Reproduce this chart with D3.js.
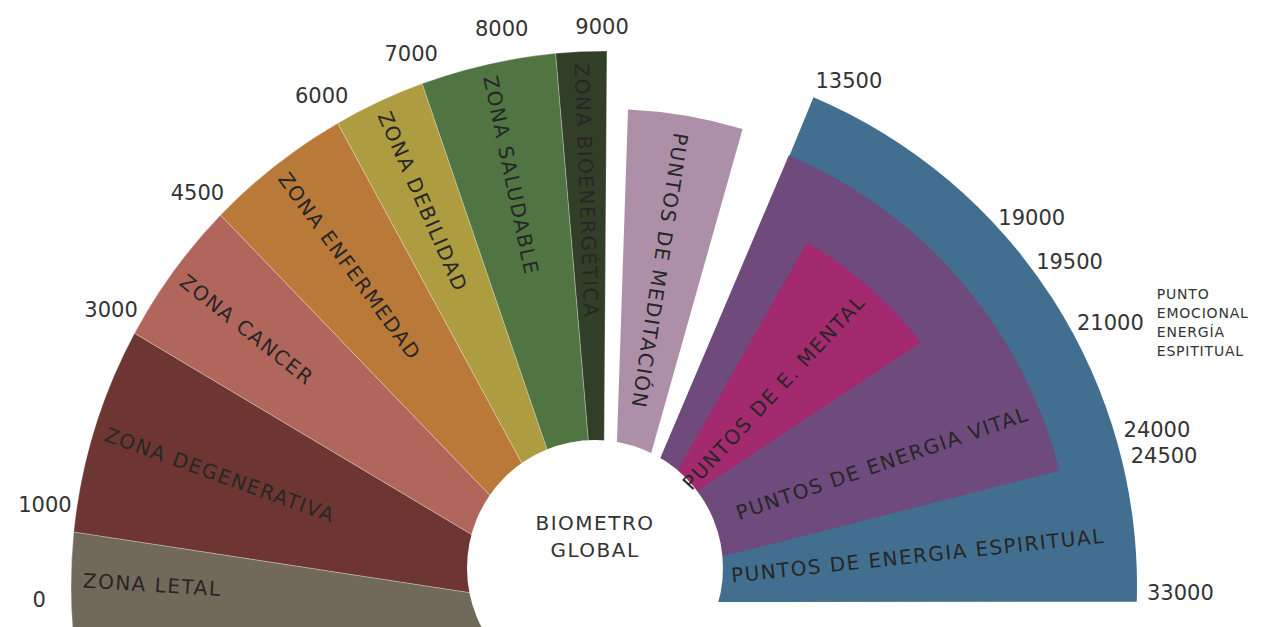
<!DOCTYPE html>
<html>
<head>
<meta charset="utf-8">
<script src="https://cdn.jsdelivr.net/npm/d3@7"></script>
<style>
  html, body { margin: 0; padding: 0; background: #fff; overflow: hidden; }
  svg { display: block; }
</style>
</head>
<body>
<div id="chart"></div>
<script>
// Biometro global: zones fan (left) + energy points fan (right)

// ---- data ----
const zoneNames  = ['ZONA LETAL','ZONA DEGENERATIVA','ZONA CANCER','ZONA ENFERMEDAD','ZONA DEBILIDAD','ZONA SALUDABLE','ZONA BIOENERGÉTICA'];
const zoneBreaks = [0, 1000, 3000, 4500, 6000, 7000, 8000, 9000];
const zoneColors = ['#716a5a','#6e3632','#b0665b','#b97a39','#ae9c40','#507542','#323f28'];

const pointNames  = ['PUNTOS DE MEDITACIÓN','PUNTOS DE ENERGIA ESPIRITUAL','PUNTOS DE ENERGIA VITAL','PUNTOS DE E. MENTAL'];
const pointFrom   = [9500, 13500, 13500, 15000];
const pointTo     = [12250, 33000, 24500, 19500];
const pointColors = ['#ae8fa8','#426f8f','#6e4a7d','#a32a6f'];

const rightTicks = [13500, 19000, 19500, 21000, 24000, 24500, 33000];
const noteTick   = 21000;
const noteLines  = ['PUNTO','EMOCIONAL','ENERGÍA','ESPITITUAL'];
const centreLines = ['BIOMETRO','GLOBAL'];

// ---- layout ----
const W = 1263, H = 627;
const O = [606, 586];          // centre of the rims
const zoneHub = [603, 613];    // where the zone borders meet
const zoneR = 535;
const pointShape = [
  {hub: [612, 592], r: 477},   // meditación
  {hub: [606, 602], r: 531},   // espiritual
  {hub: [606, 586], r: 468},   // vital
  {hub: [647, 524], r: 398}    // mental
];
// label placement for the right fan: rim angle, inset, rotation
const pointLabel = [
  {at: 9.4,  inset: 18, rot: 98.8,  anchor: 'start'},
  {at: 84.2, inset: 30, rot: -6.1,  anchor: 'end'},
  {at: 67.8, inset: 12, rot: -19,   anchor: 'end'},
  {at: 41.6, inset: 13, rot: -47.1, anchor: 'end'}
];
const disc = {cx: 595, cy: 568, r: 128};
// [angle shift, radius shift] for crowded tick labels
const leftNudge  = new Map([[0, [8.6, 0]], [1000, [2.5, 0]], [3000, [1, 0]], [8000, [-5.2, 0]], [9000, [-0.5, -7]]]);
const rightNudge = new Map([[19000, -3.8], [21000, 0.9], [24000, -0.5], [33000, -1]]);

const FONT = "'DejaVu Sans', sans-serif";

// value -> angle on the rim (degrees, 0 = up, clockwise)
const angle = d3.scaleLinear()
  .domain([0, 1000, 3000, 4500, 6000, 7000, 8000, 9000, 13500, 19500, 24500, 33000])
  .range([-100, -84.2, -61.8, -46.1, -30.1, -20.1, -5.4, 0.1, 23, 52.3, 75.75, 91.7]);

function polar(a, r, c) {
  c = c || O;
  const t = a * Math.PI / 180;
  return [c[0] + r * Math.sin(t), c[1] - r * Math.cos(t)];
}
function sector(hub, a0, a1, r) {
  const p = d3.path();
  const s = polar(a0, r);
  p.moveTo(hub[0], hub[1]);
  p.lineTo(s[0], s[1]);
  p.arc(O[0], O[1], r, (a0 - 90) * Math.PI / 180, (a1 - 90) * Math.PI / 180);
  p.closePath();
  return p.toString();
}

const svg = d3.select('#chart').append('svg')
  .attr('width', W).attr('height', H)
  .style('font-family', FONT);

const zones = zoneNames.map((name, i) => ({
  name, from: zoneBreaks[i], to: zoneBreaks[i + 1], color: zoneColors[i]
}));
const points = pointNames.map((name, i) => ({
  name, from: pointFrom[i], to: pointTo[i], color: pointColors[i],
  hub: pointShape[i].hub, r: pointShape[i].r, lab: pointLabel[i]
}));

// zones
svg.append('g').selectAll('path')
  .data(zones)
  .join('path')
  .attr('d', d => sector(zoneHub, angle(d.from), angle(d.to), zoneR))
  .attr('fill', d => d.color)
  .attr('stroke', '#ffffff')
  .attr('stroke-opacity', 0.35)
  .attr('stroke-width', 0.8);

// energy points
svg.append('g').selectAll('path')
  .data(points)
  .join('path')
  .attr('d', d => sector(d.hub, angle(d.from), angle(d.to), d.r))
  .attr('fill', d => d.color);

// centre disc
svg.append('circle')
  .attr('cx', disc.cx).attr('cy', disc.cy).attr('r', disc.r)
  .attr('fill', '#fff');

svg.append('g').selectAll('text')
  .data(centreLines)
  .join('text')
  .attr('x', disc.cx)
  .attr('y', (d, i) => disc.cy - 45 + i * 27)
  .attr('dy', '0.36em')
  .attr('text-anchor', 'middle')
  .attr('fill', '#333')
  .style('font-size', '20px')
  .style('letter-spacing', '1.5px')
  .text(d => d);

// zone labels (along the middle of the visible part of each wedge)
const aFloor = -90 - Math.asin((H - O[1]) / zoneR) * 180 / Math.PI;
zones.forEach(z => {
  const a0 = Math.max(angle(z.from), aFloor), a1 = angle(z.to);
  const m = polar((a0 + a1) / 2, zoneR);
  let ux = m[0] - zoneHub[0], uy = m[1] - zoneHub[1];
  const L = Math.hypot(ux, uy); ux /= L; uy /= L;
  z.lx = m[0] - 12 * ux;
  z.ly = m[1] - 12 * uy;
  z.rot = Math.atan2(ux, -uy) * 180 / Math.PI + 90;
});
svg.append('g').selectAll('text')
  .data(zones)
  .join('text')
  .attr('transform', d => `translate(${d.lx},${d.ly}) rotate(${d.rot})`)
  .attr('dy', '0.36em')
  .attr('fill', '#262626')
  .style('font-size', '20px')
  .style('letter-spacing', '1.5px')
  .text(d => d.name);

// point labels
svg.append('g').selectAll('text')
  .data(points)
  .join('text')
  .attr('transform', d => {
    const m = polar(d.lab.at, d.r);
    const t = d.lab.rot * Math.PI / 180;
    const k = d.lab.anchor === 'end' ? -d.lab.inset : d.lab.inset;
    return `translate(${m[0] + k * Math.cos(t)},${m[1] + k * Math.sin(t)}) rotate(${d.lab.rot})`;
  })
  .attr('text-anchor', d => d.lab.anchor)
  .attr('dy', '0.36em')
  .attr('fill', '#262626')
  .style('font-size', '20px')
  .style('letter-spacing', '1.5px')
  .text(d => d.name);

// left tick labels
const leftPos = d => {
  const n = leftNudge.get(d) || [0, 0];
  return polar(angle(d) + n[0], 567 + n[1]);
};
svg.append('g').selectAll('text')
  .data(zoneBreaks)
  .join('text')
  .attr('x', d => leftPos(d)[0])
  .attr('y', d => leftPos(d)[1])
  .attr('dy', '0.36em')
  .attr('text-anchor', 'middle')
  .attr('fill', '#333')
  .style('font-size', '21px')
  .text(d => d);

// right tick labels
const rimR = pointShape[1].r;
const rightLab = svg.append('g').selectAll('text')
  .data(rightTicks)
  .join('text')
  .each(function(d, i) {
    const p = polar(angle(d) + (rightNudge.get(d) || 0), rimR);
    const first = i === 0;
    d3.select(this)
      .attr('x', first ? p[0] + 2 : p[0] + 10)
      .attr('y', first ? p[1] - 17 : p[1]);
  })
  .attr('dy', '0.36em')
  .attr('fill', '#333')
  .style('font-size', '21px')
  .text(d => d);

// note next to the 21000 mark
const noteRef = rightLab.filter(d => d === noteTick);
const nx = +noteRef.attr('x') + noteRef.node().getComputedTextLength() + 13;
const ny = +noteRef.attr('y');
svg.append('g').selectAll('text')
  .data(noteLines)
  .join('text')
  .attr('x', nx)
  .attr('y', (d, i) => ny + (i - 1.5) * 19)
  .attr('dy', '0.36em')
  .attr('fill', '#333')
  .style('font-size', '14px')
  .style('letter-spacing', '0.8px')
  .text(d => d);
</script>
</body>
</html>
